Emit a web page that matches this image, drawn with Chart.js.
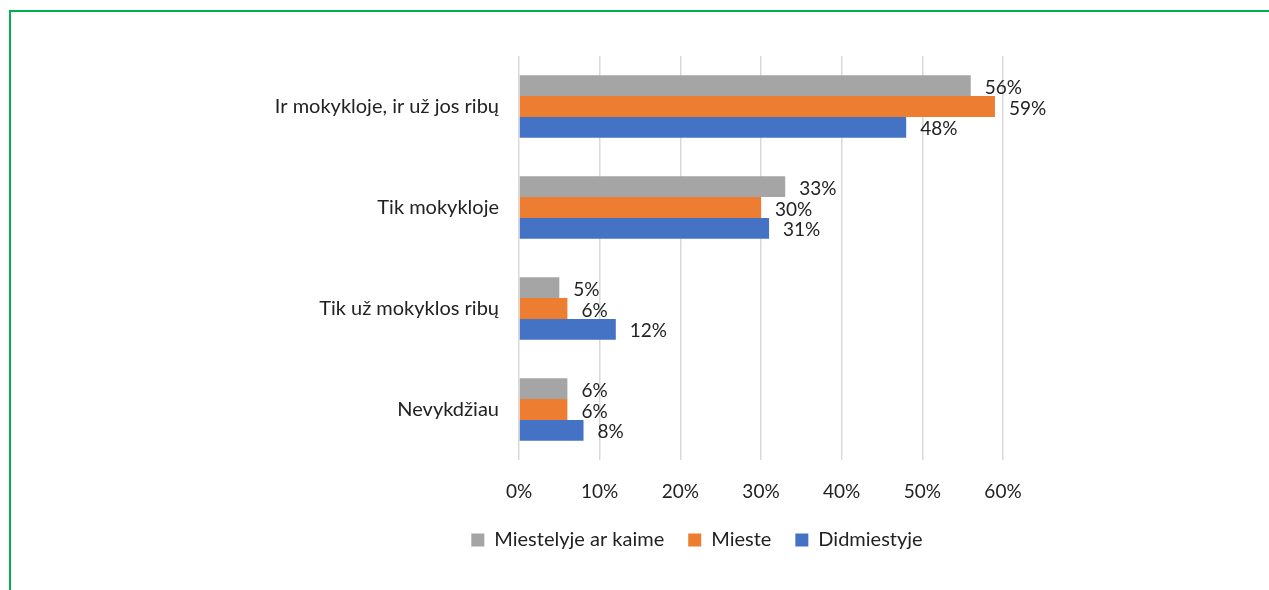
<!DOCTYPE html>
<html>
<head>
<meta charset="utf-8">
<script src="https://cdn.jsdelivr.net/npm/chart.js@4"></script>
<style>
  html, body { margin:0; padding:0; background:#fff; }
  #wrap { position:relative; width:1269px; height:590px; overflow:hidden; }
  #frame { position:absolute; left:9px; top:10px; width:1300px; height:600px; border-top:2px solid #00B050; border-left:2px solid #00B050; box-sizing:border-box; pointer-events:none; }
  canvas { position:absolute; left:0; top:0; }
</style>
</head>
<body>
<div id="wrap">
  <canvas id="c" width="1269" height="590"></canvas>
  <div id="frame"></div>
</div>
<script>
const categories = ["Ir mokykloje, ir už jos ribų", "Tik mokykloje", "Tik už mokyklos ribų", "Nevykdžiau"];
const seriesNames = ["Miestelyje ar kaime", "Mieste", "Didmiestyje"];
const miestelyje = [56, 33, 5, 6];
const mieste = [59, 30, 6, 6];
const didmiestyje = [48, 31, 12, 8];
const tickLabels = ["0%", "10%", "20%", "30%", "40%", "50%", "60%"];
const colors = ["#A5A5A5", "#ED7D31", "#4472C4"];

const FONT = "Lato, 'Liberation Sans', sans-serif";
const TXT = "#222222";
const LEGEND_CENTER_X = 697;

const labelPlugin = {
  id: 'valueLabels',
  afterLayout(chart) {
    const lg = chart.legend;
    if (lg) {
      const shift = LEGEND_CENTER_X - (lg.left + lg.right) / 2;
      lg.left += shift; lg.right += shift;
    }
  },
  afterDatasetsDraw(chart) {
    const ctx = chart.ctx;
    ctx.save();
    ctx.font = "19px " + FONT;
    ctx.fillStyle = TXT;
    ctx.textAlign = 'left';
    ctx.textBaseline = 'middle';
    chart.data.datasets.forEach((ds, i) => {
      const meta = chart.getDatasetMeta(i);
      meta.data.forEach((el, j) => {
        ctx.fillText(ds.data[j] + '%', el.x + 14, el.y + 2);
      });
    });
    ctx.restore();
  }
};

new Chart(document.getElementById('c'), {
  type: 'bar',
  data: {
    labels: categories,
    datasets: [
      { label: seriesNames[0], data: miestelyje, backgroundColor: colors[0] },
      { label: seriesNames[1], data: mieste, backgroundColor: colors[1] },
      { label: seriesNames[2], data: didmiestyje, backgroundColor: colors[2] }
    ]
  },
  options: {
    indexAxis: 'y',
    responsive: false,
    animation: false,
    datasets: { bar: { categoryPercentage: 0.62, barPercentage: 1.0 } },
    layout: { padding: { top: 56, right: 266, bottom: 30, left: 0 } },
    scales: {
      x: {
        min: 0, max: 60,
        afterFit: (s) => { s.height = 46; },
        ticks: {
          stepSize: 10,
          padding: 20,
          color: TXT,
          font: { family: FONT, size: 19 },
          callback: (v, i) => tickLabels[i]
        },
        grid: { color: '#D9D9D9', lineWidth: 1.5, drawTicks: false },
        border: { display: false }
      },
      y: {
        afterFit: (s) => { s.width = 519; },
        ticks: {
          padding: 20,
          color: TXT,
          font: { family: FONT, size: 20 }
        },
        grid: { display: false, drawTicks: false },
        border: { display: false }
      }
    },
    plugins: {
      legend: {
        position: 'bottom',
        labels: {
          boxWidth: 13, boxHeight: 13, padding: 24,
          color: TXT,
          font: { family: FONT, size: 20 }
        }
      },
      tooltip: { enabled: false }
    }
  },
  plugins: [labelPlugin]
});
</script>
</body>
</html>
